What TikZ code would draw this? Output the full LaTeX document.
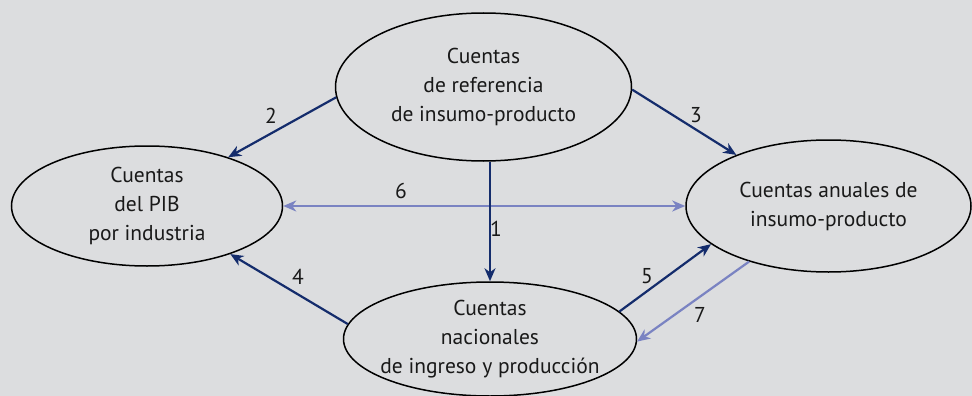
\documentclass[tikz,border=0pt]{standalone}
\usepackage{fontspec}
\setmainfont{PT Sans}
\usetikzlibrary{shapes.geometric,arrows.meta}
\definecolor{bg}{RGB}{220,221,223}
\definecolor{navy}{RGB}{20,44,108}
\definecolor{lav}{RGB}{122,131,194}
\begin{document}
\begin{tikzpicture}[x=1pt,y=-1pt,
  box/.style={ellipse,draw=black,line width=1.5pt,fill=bg,inner sep=0pt,align=center,text=black!90,font=\fontsize{21.5}{29}\selectfont},
  tipstyle/.style={-{Stealth[length=13pt,width=11pt,inset=4pt]}},
  dk/.style={draw=navy,line width=2.2pt,tipstyle},
  lt/.style={draw=lav,line width=2.2pt,tipstyle},
  num/.style={font=\fontsize{21.5}{25}\selectfont,inner sep=0pt,text=black!90}]
\fill[bg] (0,0) rectangle (972,396);
\useasboundingbox (0,0) rectangle (972,396);
\node[box,minimum width=296pt,minimum height=148pt] (top) at (483.5,87) {Cuentas\\de referencia\\de insumo-producto};
\node[box,minimum width=271pt,minimum height=120pt] (left) at (147,206) {Cuentas\\del PIB\\por industria};
\node[box,minimum width=285pt,minimum height=132pt] (right) at (828.5,206) {Cuentas anuales de\\insumo-producto};
\node[box,inner xsep=-12pt,minimum width=293pt,minimum height=114pt] (bot) at (490,339) {Cuentas\\nacionales\\de ingreso y producción};
\draw[dk] (top.184) -- (left.31.5);
\draw[dk] (top.-1) -- (right.151);
\draw[lt,{Stealth[length=13pt,width=11pt,inset=4pt]}-{Stealth[length=13pt,width=11pt,inset=4pt]}] (left.east) -- (right.west);
\draw[dk] (top.south -| bot.north) -- (bot.north);
\draw[dk] (bot.174) -- (left.-30.5);
\draw[dk] (bot.12.4) -- (right.198);
\draw[lt] (right.215.5) -- (bot.-1);
\node[num] (n2) at (271,116) {2};
\node[num] (n3) at (696,115) {3};
\node[num] (n6) at (401,191) {6};
\node[num] (n1) at (496,229) {1};
\node[num] (n4) at (298,277) {4};
\node[num] (n5) at (647,276) {5};
\node[num] (n7) at (700,315) {7};
\end{tikzpicture}
\end{document}
